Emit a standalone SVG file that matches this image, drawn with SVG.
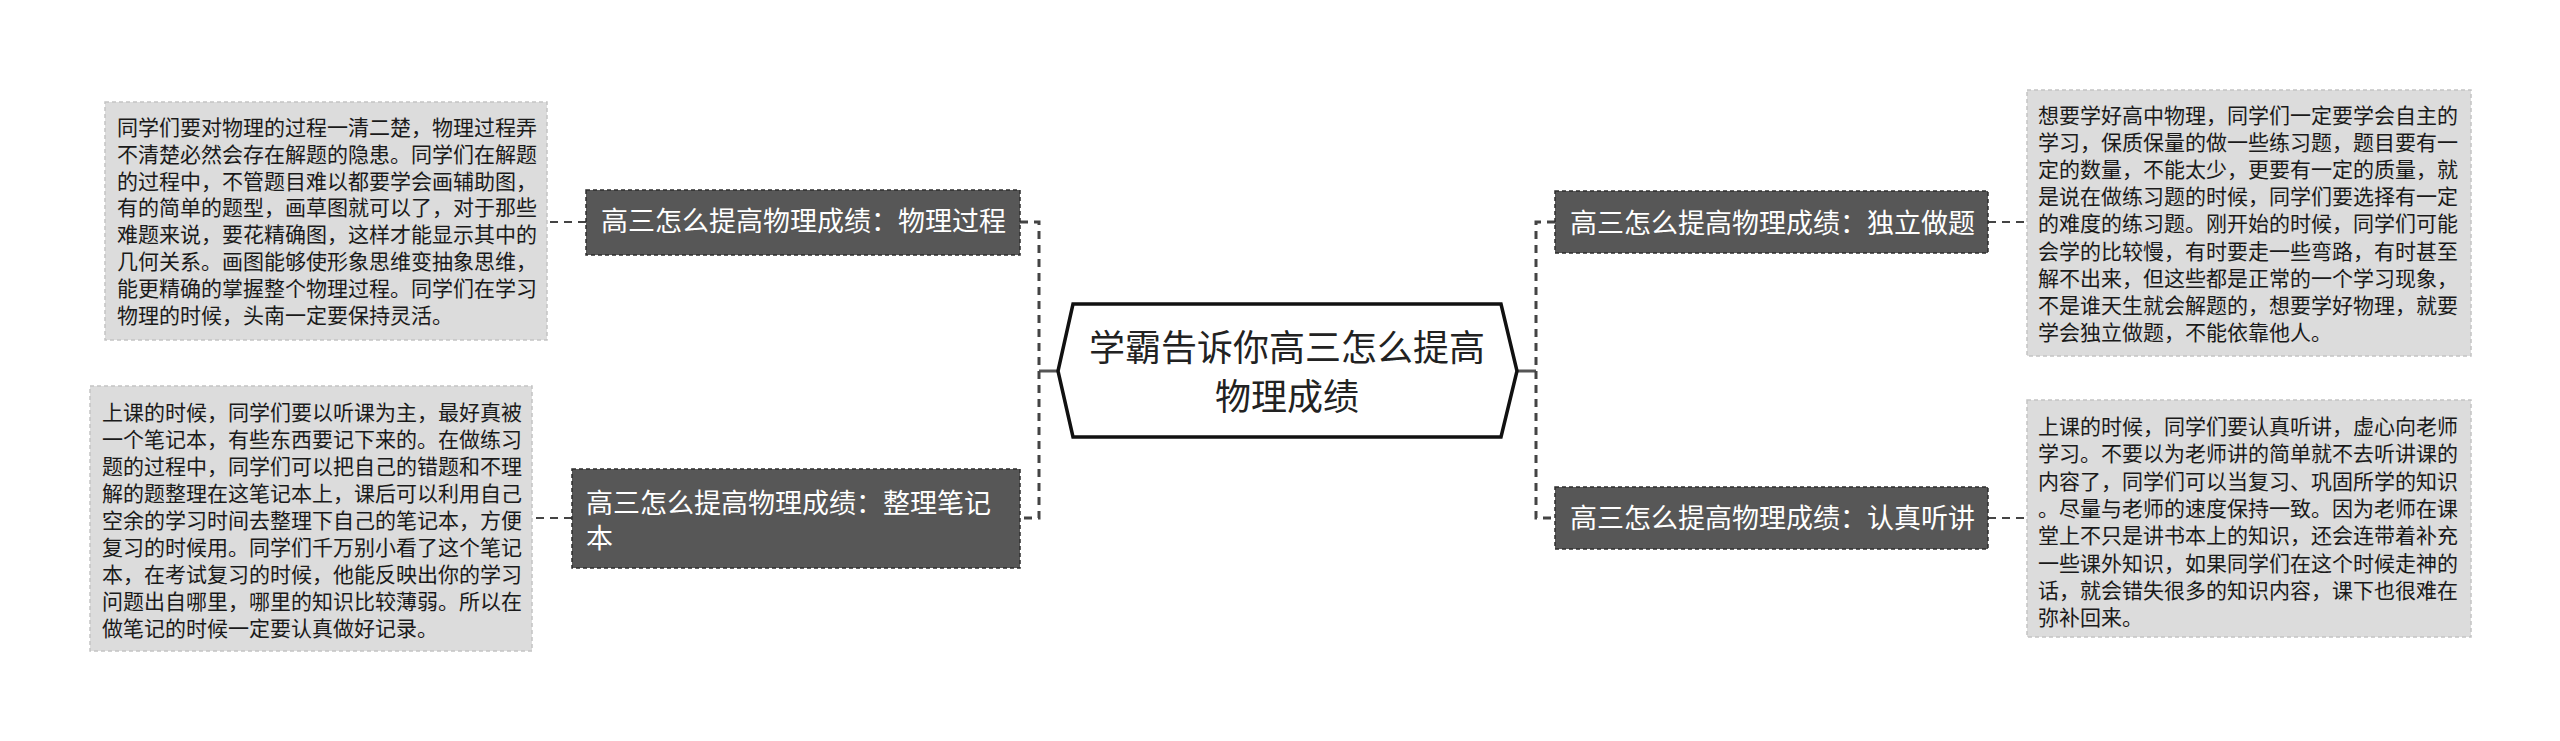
<svg xmlns="http://www.w3.org/2000/svg" width="2560" height="741" viewBox="0 0 2560 741">
<style>
text{font-family:"Noto Sans CJK SC","Noto Sans",sans-serif}
.box{fill:#dcdcdc;stroke:#c4c4c4;stroke-width:1.5;stroke-dasharray:4 3}
.bt{font-size:21px;fill:#1a1a1a}
.node{fill:#575757;stroke:#2e2e2e;stroke-width:1.5;stroke-dasharray:4 3}
.nt{font-size:27px;fill:#ffffff}
.dash{fill:none;stroke:#444;stroke-width:2;stroke-dasharray:8 6}
.vdash{fill:none;stroke:#444;stroke-width:3;stroke-dasharray:8 6}
.solid{fill:none;stroke:#555;stroke-width:3}
</style>
<rect width="2560" height="741" fill="#ffffff"/>
<g id="connectors">
<path class="solid" d="M1058,371 H1039"/>
<path class="solid" d="M1517,371 H1536"/>
<path class="vdash" d="M1020,222 H1039 V518 H1020"/>
<path class="vdash" d="M1555,222 H1536 V518 H1555"/>
<path class="dash" d="M586,222 H547"/>
<path class="dash" d="M572,518 H532"/>
<path class="dash" d="M1988,222 H2027"/>
<path class="dash" d="M1988,518 H2027"/>
</g>
<g id="center">
<polygon points="1073,304 1501,304 1517,371 1501,437 1073,437 1058,371" fill="#ffffff" stroke="#111" stroke-width="3.5"/>
<text x="1287" y="361" font-size="36" fill="#222" text-anchor="middle">学霸告诉你高三怎么提高</text>
<text x="1287" y="410" font-size="36" fill="#222" text-anchor="middle">物理成绩</text>
</g>
<g id="node1">
<rect class="node" x="586" y="190" width="434" height="65"/>
<text class="nt" x="601" y="231">高三怎么提高物理成绩：物理过程</text>
</g>
<g id="node2">
<rect class="node" x="572" y="469" width="448" height="99"/>
<text class="nt" x="586" y="513">高三怎么提高物理成绩：整理笔记</text>
<text class="nt" x="586" y="548">本</text>
</g>
<g id="node3">
<rect class="node" x="1555" y="191" width="433" height="62"/>
<text class="nt" x="1570" y="233">高三怎么提高物理成绩：独立做题</text>
</g>
<g id="node4">
<rect class="node" x="1555" y="487" width="433" height="62"/>
<text class="nt" x="1570" y="528">高三怎么提高物理成绩：认真听讲</text>
</g>
<g id="box1">
<rect class="box" x="105" y="102" width="442" height="238"/>
<text class="bt" x="117" y="135">同学们要对物理的过程一清二楚，物理过程弄</text>
<text class="bt" x="117" y="161.8">不清楚必然会存在解题的隐患。同学们在解题</text>
<text class="bt" x="117" y="188.6">的过程中，不管题目难以都要学会画辅助图，</text>
<text class="bt" x="117" y="215.4">有的简单的题型，画草图就可以了，对于那些</text>
<text class="bt" x="117" y="242.2">难题来说，要花精确图，这样才能显示其中的</text>
<text class="bt" x="117" y="269">几何关系。画图能够使形象思维变抽象思维，</text>
<text class="bt" x="117" y="295.8">能更精确的掌握整个物理过程。同学们在学习</text>
<text class="bt" x="117" y="322.6">物理的时候，头南一定要保持灵活。</text>
</g>
<g id="box2">
<rect class="box" x="90" y="386" width="442" height="265"/>
<text class="bt" x="102" y="420">上课的时候，同学们要以听课为主，最好真被</text>
<text class="bt" x="102" y="447">一个笔记本，有些东西要记下来的。在做练习</text>
<text class="bt" x="102" y="474">题的过程中，同学们可以把自己的错题和不理</text>
<text class="bt" x="102" y="501">解的题整理在这笔记本上，课后可以利用自己</text>
<text class="bt" x="102" y="528">空余的学习时间去整理下自己的笔记本，方便</text>
<text class="bt" x="102" y="555">复习的时候用。同学们千万别小看了这个笔记</text>
<text class="bt" x="102" y="582">本，在考试复习的时候，他能反映出你的学习</text>
<text class="bt" x="102" y="609">问题出自哪里，哪里的知识比较薄弱。所以在</text>
<text class="bt" x="102" y="636">做笔记的时候一定要认真做好记录。</text>
</g>
<g id="box3">
<rect class="box" x="2027" y="90" width="444" height="266"/>
<text class="bt" x="2038" y="123">想要学好高中物理，同学们一定要学会自主的</text>
<text class="bt" x="2038" y="150.1">学习，保质保量的做一些练习题，题目要有一</text>
<text class="bt" x="2038" y="177.2">定的数量，不能太少，更要有一定的质量，就</text>
<text class="bt" x="2038" y="204.3">是说在做练习题的时候，同学们要选择有一定</text>
<text class="bt" x="2038" y="231.4">的难度的练习题。刚开始的时候，同学们可能</text>
<text class="bt" x="2038" y="258.5">会学的比较慢，有时要走一些弯路，有时甚至</text>
<text class="bt" x="2038" y="285.6">解不出来，但这些都是正常的一个学习现象，</text>
<text class="bt" x="2038" y="312.7">不是谁天生就会解题的，想要学好物理，就要</text>
<text class="bt" x="2038" y="339.8">学会独立做题，不能依靠他人。</text>
</g>
<g id="box4">
<rect class="box" x="2027" y="400" width="444" height="237"/>
<text class="bt" x="2038" y="434">上课的时候，同学们要认真听讲，虚心向老师</text>
<text class="bt" x="2038" y="461.3">学习。不要以为老师讲的简单就不去听讲课的</text>
<text class="bt" x="2038" y="488.6">内容了，同学们可以当复习、巩固所学的知识</text>
<text class="bt" x="2038" y="515.9">。尽量与老师的速度保持一致。因为老师在课</text>
<text class="bt" x="2038" y="543.2">堂上不只是讲书本上的知识，还会连带着补充</text>
<text class="bt" x="2038" y="570.5">一些课外知识，如果同学们在这个时候走神的</text>
<text class="bt" x="2038" y="597.8">话，就会错失很多的知识内容，课下也很难在</text>
<text class="bt" x="2038" y="625.1">弥补回来。</text>
</g>
</svg>
